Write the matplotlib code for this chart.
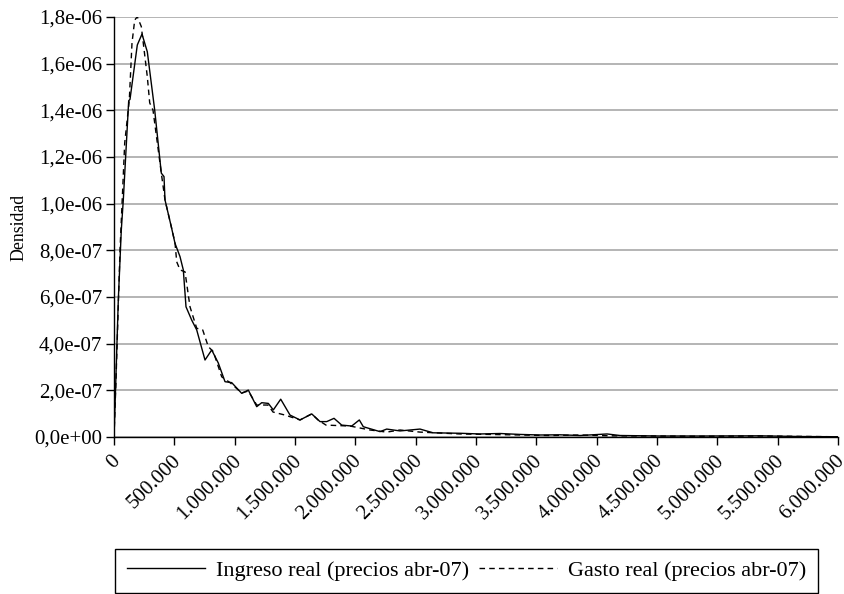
import matplotlib
matplotlib.use("Agg")
import matplotlib.pyplot as plt
import matplotlib.transforms as mtransforms
from matplotlib.ticker import FuncFormatter, MultipleLocator

plt.rcParams['font.family'] = ['Liberation Serif', 'DejaVu Serif']
plt.rcParams['font.size'] = 15

# Kernel density estimates, real income and real expenditure (abr-07 prices)
ingreso_x = [0, 15000, 35600, 60500, 77100, 121800, 132600, 193100, 232000, 276000,
             337300, 392000, 414400, 422700, 474900, 505600, 547000, 574400, 596700,
             644000, 685400, 754200, 809700, 864400, 920000, 975500, 1058400, 1113100,
             1182700, 1224100, 1278800, 1320300, 1381600, 1458700, 1541600, 1638500,
             1707300, 1762900, 1823400, 1887200, 1970000, 2033000, 2066200, 2204600,
             2260100, 2370400, 2536100, 2643900, 2867600, 3033400, 3199200, 3364900,
             3530700, 3696400, 3862200, 4086000, 4193700, 4525200, 4856800, 5354100,
             5685600, 6000000]
ingreso_y = [0.0, 2.4e-7, 5.87e-7, 8.87e-7, 1.016e-6, 1.441e-6, 1.447e-6, 1.680e-6,
             1.727e-6, 1.651e-6, 1.401e-6, 1.131e-6, 1.116e-6, 1.016e-6, 9.01e-7,
             8.30e-7, 7.73e-7, 7.16e-7, 5.58e-7, 5.01e-7, 4.59e-7, 3.30e-7, 3.73e-7,
             3.17e-7, 2.37e-7, 2.33e-7, 1.87e-7, 2.01e-7, 1.30e-7, 1.47e-7, 1.44e-7,
             1.16e-7, 1.62e-7, 9.4e-8, 7.3e-8, 9.9e-8, 6.6e-8, 6.6e-8, 8.0e-8, 5.1e-8,
             4.7e-8, 7.3e-8, 4.4e-8, 2.3e-8, 3.4e-8, 2.6e-8, 3.4e-8, 1.8e-8, 1.6e-8,
             1.3e-8, 1.5e-8, 1.1e-8, 8.6e-9, 9.4e-9, 6.4e-9, 1.3e-8, 6.4e-9, 4.3e-9,
             4.3e-9, 5.1e-9, 2.1e-9, 1.0e-9]

gasto_x = [0, 16600, 49700, 88700, 126800, 149200, 171600, 193100, 226300, 276000,
           295900, 323200, 392000, 422700, 474900, 505600, 519700, 547000, 588400,
           629900, 685400, 735100, 781600, 823000, 892600, 961400, 1058400, 1113100,
           1182700, 1276400, 1317800, 1417300, 1541600, 1638500, 1690700, 1757000,
           1955900, 2121700, 2260100, 2370400, 2536100, 2701900, 2867600, 3116300,
           3364900, 3613600, 3862200, 4110800, 4442400, 4856800, 5354100, 6000000]
gasto_y = [0.0, 2.44e-7, 8.0e-7, 1.26e-6, 1.444e-6, 1.689e-6, 1.787e-6, 1.801e-6,
           1.759e-6, 1.544e-6, 1.432e-6, 1.401e-6, 1.131e-6, 1.016e-6, 9.01e-7,
           8.32e-7, 7.51e-7, 7.16e-7, 7.08e-7, 5.58e-7, 4.66e-7, 4.59e-7, 3.87e-7,
           3.66e-7, 2.58e-7, 2.33e-7, 1.89e-7, 1.97e-7, 1.37e-7, 1.37e-7, 1.07e-7,
           9.4e-8, 7.3e-8, 9.9e-8, 7.3e-8, 5.1e-8, 4.7e-8, 3.0e-8, 2.1e-8, 3.0e-8,
           2.1e-8, 1.7e-8, 1.3e-8, 1.1e-8, 8.6e-9, 6.4e-9, 8.6e-9, 5.1e-9, 4.3e-9,
           3.0e-9, 4.3e-9, 1.0e-9]


def fmt_y(v, pos):
    return f"{v:.1e}".replace('.', ',')


def fmt_x(v, pos):
    return f"{int(round(v)):,}".replace(',', '.')


fig = plt.figure(figsize=(8.45, 5.94), dpi=100)
ax = fig.add_axes([114 / 845, 1 - 437 / 594, (838 - 114) / 845, (437 - 17) / 594])

ax.plot(ingreso_x, ingreso_y, color='black', lw=1.0, label='Ingreso real (precios abr-07)')
ax.plot(gasto_x, gasto_y, color='black', lw=1.0, linestyle=(0, (4, 3)),
        label='Gasto real (precios abr-07)')

ax.set_xlim(0, 6000000)
ax.set_ylim(0, 1.8e-6)
ax.xaxis.set_major_locator(MultipleLocator(500000))
ax.yaxis.set_major_locator(MultipleLocator(2e-7))
ax.xaxis.set_major_formatter(FuncFormatter(fmt_x))
ax.yaxis.set_major_formatter(FuncFormatter(fmt_y))

ax.grid(axis='y', color='#a0a0a0', lw=1.1)
ax.set_axisbelow(True)
for side in ('top', 'right'):
    ax.spines[side].set_visible(False)
for side in ('left', 'bottom'):
    ax.spines[side].set_color('black')
    ax.spines[side].set_linewidth(1.0)

ax.tick_params(direction='out', length=6, width=1.0, color='black')
ax.tick_params(axis='y', pad=2.5)
ax.tick_params(axis='x', pad=4.5)

# rotated x labels, nudged a little to the left of their ticks
shift = mtransforms.ScaledTranslation(-3 / 100, 0, fig.dpi_scale_trans)
for lbl in ax.get_xticklabels():
    lbl.set_rotation(45)
    lbl.set_ha('right')
    lbl.set_va('top')
    lbl.set_rotation_mode('anchor')
    lbl.set_transform(lbl.get_transform() + shift)

ax.set_ylabel('Densidad', fontsize=12.8)
ax.yaxis.set_label_coords(-0.119, 0.5)

fig.legend(loc='lower left', ncol=2, mode='expand', fontsize=16,
           bbox_to_anchor=(115 / 845, 1 / 594, (818 - 115) / 845, 44 / 594),
           frameon=True, fancybox=False, edgecolor='black', framealpha=1,
           handlelength=3.5, handletextpad=0.5, borderpad=0.53, borderaxespad=0)

fig.savefig('out.png', dpi=100)
